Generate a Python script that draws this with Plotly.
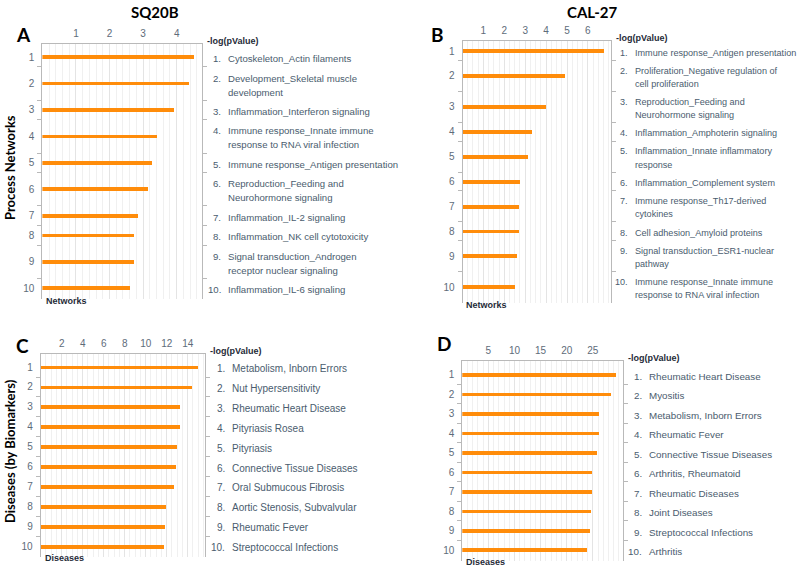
import plotly.graph_objects as go

# ---------------- data ----------------
a_values = [4.52, 4.38, 3.92, 3.42, 3.29, 3.16, 2.87, 2.75, 2.73, 2.63]
a_labels = ["Cytoskeleton_Actin filaments",
            "Development_Skeletal muscle<br>development",
            "Inflammation_Interferon signaling",
            "Immune response_Innate immune<br>response to RNA viral infection",
            "Immune response_Antigen presentation",
            "Reproduction_Feeding and<br>Neurohormone signaling",
            "Inflammation_IL-2 signaling",
            "Inflammation_NK cell cytotoxicity",
            "Signal transduction_Androgen<br>receptor nuclear signaling",
            "Inflammation_IL-6 signaling"]
a_ticks = [1, 2, 3, 4]

b_values = [6.76, 4.86, 3.99, 3.31, 3.12, 2.72, 2.67, 2.66, 2.58, 2.51]
b_labels = ["Immune response_Antigen presentation",
            "Proliferation_Negative regulation of<br>cell proliferation",
            "Reproduction_Feeding and<br>Neurohormone signaling",
            "Inflammation_Amphoterin signaling",
            "Inflammation_Innate inflammatory<br>response",
            "Inflammation_Complement system",
            "Immune response_Th17-derived<br>cytokines",
            "Cell adhesion_Amyloid proteins",
            "Signal transduction_ESR1-nuclear<br>pathway",
            "Immune response_Innate immune<br>response to RNA viral infection"]
b_ticks = [1, 2, 3, 4, 5, 6]

c_values = [14.95, 14.38, 13.27, 13.20, 12.95, 12.89, 12.63, 11.93, 11.84, 11.68]
c_labels = ["Metabolism, Inborn Errors", "Nut Hypersensitivity",
            "Rheumatic Heart Disease", "Pityriasis Rosea", "Pityriasis",
            "Connective Tissue Diseases", "Oral Submucous Fibrosis",
            "Aortic Stenosis, Subvalvular", "Rheumatic Fever",
            "Streptococcal Infections"]
c_ticks = [2, 4, 6, 8, 10, 12, 14]

d_values = [29.44, 28.62, 26.32, 26.19, 25.86, 24.98, 24.83, 24.80, 24.52, 23.89]
d_labels = ["Rheumatic Heart Disease", "Myositis", "Metabolism, Inborn Errors",
            "Rheumatic Fever", "Connective Tissue Diseases", "Arthritis, Rheumatoid",
            "Rheumatic Diseases", "Joint Diseases", "Streptococcal Infections",
            "Arthritis"]
d_ticks = [5, 10, 15, 20, 25]

column_titles = ["SQ20B", "CAL-27"]
row_titles = ["Process Networks", "Diseases (by Biomarkers)"]
panel_letters = ["A", "B", "C", "D"]
unit_labels = ["Networks", "Networks", "Diseases", "Diseases"]
axis_label = "-log(pValue)"

# ---------------- layout (pixel geometry) ----------------
W, H = 800, 575
BAR = "#FF8C0A"
TXT = "#4a5c6e"
TICK = "#5e6c7a"
LINE = "#b9b9b9"
FONT = "Liberation Sans, Arial, sans-serif"
HEAD = "Lato, Liberation Sans, sans-serif"

panels = [
    dict(values=a_values, labels=a_labels, ticks=a_ticks, x0=42.4, x1=202, ppu=33.57,
         top=44, rows_top=47.2, bottom=299, h1=19.7, extra=13.5, gap=14.0,
         minor=0.2, text_x=226, fs=9.6),
    dict(values=b_values, labels=b_labels, ticks=b_ticks, x0=462.5, x1=611, ppu=20.9,
         top=40.7, rows_top=41.7, bottom=303, h1=18.7, extra=12.3, gap=13.3,
         minor=0.25, text_x=632.7, fs=9.1),
    dict(values=c_values, labels=c_labels, ticks=c_ticks, x0=40.7, x1=205, ppu=10.5,
         top=353.5, rows_top=357.1, bottom=556.5, h1=19.9, extra=0, gap=13.5,
         minor=0.5, text_x=230, fs=10),
    dict(values=d_values, labels=d_labels, ticks=d_ticks, x0=462.3, x1=623, ppu=5.22,
         top=360.7, rows_top=365.0, bottom=560.5, h1=19.48, extra=0, gap=13.5,
         minor=1.0, text_x=647.3, fs=9.8),
]

fig = go.Figure()
annotations = []

for i, p in enumerate(panels, start=1):
    sfx = "" if i == 1 else str(i)
    xa, ya = "x" + sfx, "y" + sfx
    # row geometry from number of text lines
    heights = [p["h1"] + (len(l.split("<br>")) - 1) * p["extra"] for l in p["labels"]]
    centers, bounds, acc = [], [], 0.0
    for h in heights:
        centers.append(acc + h / 2)
        acc += h
        bounds.append(acc)
    xmax = (p["x1"] - p["x0"]) / p["ppu"]
    fig.add_trace(go.Bar(x=p["values"], y=centers, orientation="h", width=3.8,
                         marker=dict(color=BAR, line=dict(width=0)),
                         xaxis=xa, yaxis=ya, hoverinfo="skip", showlegend=False))
    minor_vals = []
    k = 1
    while k * p["minor"] < xmax:
        minor_vals.append(round(k * p["minor"], 4))
        k += 1
    fig.layout["xaxis" + sfx] = dict(
        domain=[p["x0"] / W, p["x1"] / W], anchor=ya, side="top",
        range=[0, xmax], tickmode="array", tickvals=p["ticks"],
        ticktext=[str(t) for t in p["ticks"]],
        tickfont=dict(family=FONT, size=10, color=TICK),
        showline=True, linecolor=LINE, linewidth=1, ticks="", ticklabelstandoff=2,
        showgrid=True, gridcolor="#e4e4e4", gridwidth=1, zeroline=False,
        minor=dict(tickmode="array", tickvals=minor_vals, showgrid=True,
                   gridcolor="#f0f0f0", gridwidth=1, ticks=""),
        fixedrange=True)
    fig.layout["yaxis" + sfx] = dict(
        domain=[1 - p["bottom"] / H, 1 - p["top"] / H], anchor=xa,
        range=[p["bottom"] - p["rows_top"], p["top"] - p["rows_top"]],
        tickmode="array", tickvals=centers,
        ticktext=[str(n + 1) for n in range(len(centers))],
        tickfont=dict(family=FONT, size=10, color=TICK), ticks="",
        ticklabelstandoff=5,
        showline=True, linecolor=LINE, linewidth=1, mirror="ticks",
        showgrid=False, zeroline=False,
        minor=dict(tickmode="array", tickvals=bounds[:-1], ticks="outside",
                   ticklen=4, tickcolor=LINE, showgrid=False),
        fixedrange=True)
    # right side labels
    for n, (lab, c) in enumerate(zip(p["labels"], centers)):
        lines = lab.split("<br>")
        m = len(lines)
        for j, line in enumerate(lines):
            yy = c + (j - (m - 1) / 2) * p["gap"] + 1.5
            annotations.append(dict(x=p["text_x"] / W, xref="paper", y=yy, yref=ya,
                                    text=line, showarrow=False, xanchor="left",
                                    yanchor="middle",
                                    font=dict(family=FONT, size=p["fs"], color=TXT)))
            if j == 0:
                annotations.append(dict(x=(p["text_x"] - 3) / W, xref="paper", y=yy,
                                        yref=ya, text=f"{n + 1}.", showarrow=False,
                                        xanchor="right", yanchor="middle",
                                        font=dict(family=FONT, size=p["fs"], color=TXT)))
    # axis name at end of top axis
    annotations.append(dict(x=(p["x1"] + 3) / W, xref="paper", y=1 - (p["top"] - 3) / H,
                            yref="paper", text=f"<b>{axis_label}</b>", showarrow=False,
                            xanchor="left", yanchor="middle",
                            font=dict(family=FONT, size=9, color="#1f2b38")))
    # unit label at bottom-left
    annotations.append(dict(x=(p["x0"] + 2) / W, xref="paper", y=1 - (p["bottom"] + 1.5) / H,
                            yref="paper", text=f"<b>{unit_labels[i - 1]}</b>",
                            showarrow=False, xanchor="left", yanchor="middle",
                            font=dict(family=FONT, size=9, color="#1f2b38")))

# panel letters
for letter, (lx, ly) in zip(panel_letters, [(23, 35), (437, 35), (22, 345), (444, 343)]):
    annotations.append(dict(x=lx / W, y=1 - ly / H, xref="paper", yref="paper",
                            text=f"<b>{letter}</b>", showarrow=False,
                            xanchor="center", yanchor="middle",
                            font=dict(family=HEAD, size=19, color="#000000")))
# column titles
for t, (tx, ty) in zip(column_titles, [(155, 12), (592, 12)]):
    annotations.append(dict(x=tx / W, y=1 - ty / H, xref="paper", yref="paper",
                            text=f"<b>{t}</b>", showarrow=False,
                            xanchor="center", yanchor="middle",
                            font=dict(family=HEAD, size=15, color="#000000")))
# row titles
for t, (tx, ty) in zip(row_titles, [(10, 168), (10, 451)]):
    annotations.append(dict(x=tx / W, y=1 - ty / H, xref="paper", yref="paper",
                            text=f"<b>{t}</b>", showarrow=False, textangle=-90,
                            xanchor="center", yanchor="middle",
                            font=dict(family=HEAD, size=13, color="#000000")))

fig.update_layout(width=W, height=H, margin=dict(l=0, r=0, t=0, b=0),
                  paper_bgcolor="white", plot_bgcolor="white",
                  annotations=annotations, bargap=0, showlegend=False)

fig.write_html("out.html", config={"displayModeBar": False},
               post_script="document.body.style.margin='0';document.body.style.padding='0';")
